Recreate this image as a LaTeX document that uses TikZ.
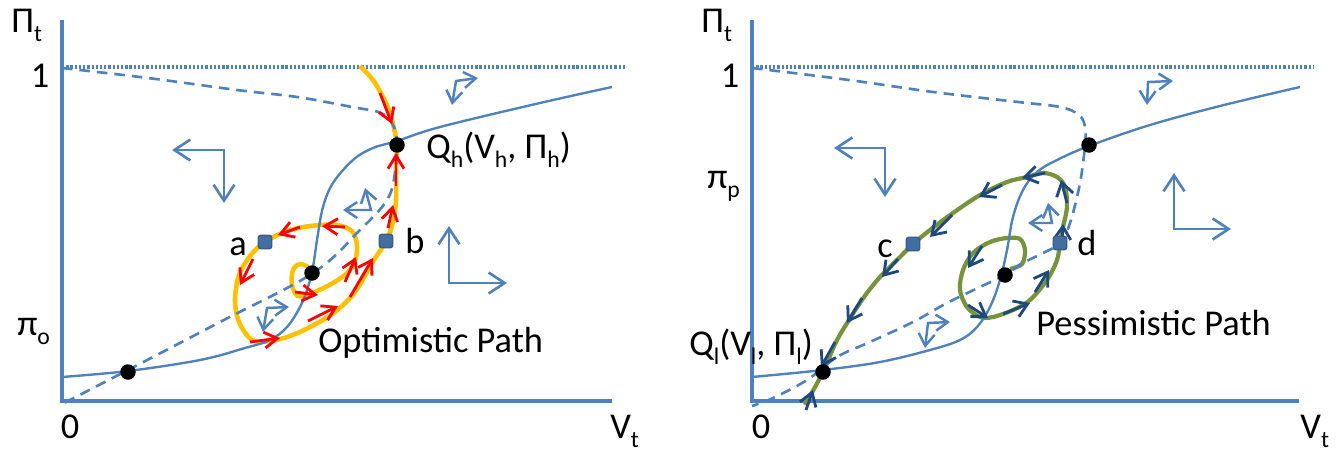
\documentclass[tikz,border=0pt]{standalone}
\usepackage{fontspec}
\setmainfont{Carlito}
\usetikzlibrary{arrows.meta,positioning}

\definecolor{axisblue}{HTML}{4F81BD}
\definecolor{sqborder}{HTML}{385D8A}
\definecolor{optorange}{HTML}{FFC000}
\definecolor{pessgreen}{HTML}{77933C}
\definecolor{pessnavy}{HTML}{1F497D}

% lowered text subscript
\newcommand{\lo}[1]{\raisebox{-5.5pt}{\fontsize{13.5}{14}\selectfont #1}}

\begin{document}
\begin{tikzpicture}[
  x=0.02cm, y=-0.02cm,
  font=\fontsize{20.7}{24}\selectfont,
  axis/.style={axisblue,line width=2pt},
  curve/.style={axisblue,line width=1.35pt},
  unstable/.style={curve,line width=1.5pt,dash pattern=on 6pt off 4pt},
  level/.style={axisblue,line width=1.9pt,dash pattern=on 1.3pt off 1.1pt},
  bigflow/.style={axisblue,line width=1.5pt,
    {Straight Barb[length=0.32cm,width=0.42cm]}-{Straight Barb[length=0.32cm,width=0.42cm]}},
  smallflow/.style={axisblue,line width=1.4pt,
    {Straight Barb[length=0.24cm,width=0.32cm]}-{Straight Barb[length=0.24cm,width=0.32cm]}},
  optpath/.style={optorange,line width=2.6pt},
  pesspath/.style={pessgreen,line width=2.4pt},
  optarrow/.style={red,line width=1.6pt,-{Straight Barb[length=0.26cm,width=0.32cm]}},
  pessarrow/.style={pessnavy,line width=1.6pt,-{Straight Barb[length=0.26cm,width=0.34cm]}},
  eq/.style={circle,fill=black,inner sep=0pt,minimum size=0.31cm},
  pt/.style={rectangle,rounded corners=1.5pt,fill=axisblue!85!black,draw=sqborder,line width=0.8pt,inner sep=0pt,minimum size=0.27cm},
  lbl/.style={inner sep=0pt}
]
\useasboundingbox (0,0) rectangle (1341,453);

%%% optimistic panel
\draw[axis] (62,20) |- (612,401);
\draw[level] (62,67) -- (625,67);
\draw[optpath] plot[smooth,tension=0.55] coordinates {(360,66) (373,80) (383,97) (390,113) (395,133) (397,145)
  (396,170) (396,200) (393,222) (386,241) (372,263) (355,292) (335,312) (312,326) (290,336) (270,341) (252,340)
  (239,322) (235,300) (239,275) (250,256) (265,242) (290,230) (320,225) (342,226) (354,234) (357,252)
  (350,270) (333,283) (312,293) (298,296) (292,285) (293,270) (300,264) (308,267)};
\draw[unstable] plot[smooth,tension=0.6] coordinates {(62,68) (148,78) (237,90) (297,97) (352,107) (381,113)
  (393,125) (397,143) (395,173) (387,200) (360,230) (313,273) (220,322) (128,370) (62,404)};
\draw[curve] plot[smooth,tension=0.6] coordinates {(62,377) (128,371) (200,360) (245,348) (270,340) (287,327)
  (300,307) (308,287) (313,267) (317,240) (323,207) (333,183) (353,160) (373,148) (397,141) (440,127)
  (540,103) (612,87)};
\draw[bigflow] (172,150) -| (224,203);
\draw[bigflow] (449,226) |- (507,283);
\draw[smallflow] (478,78) -- (456,81) -- (452,105);
\draw[smallflow] (365,188) -- (371,210) -- (343,210);
\draw[smallflow] (263,332) -- (267,308) -- (289,307);
\draw[optarrow] (380,93) -- (392,124);
\draw[optarrow] (396,186) -- (396,153);
\draw[optarrow] (388,228) -- (393,205);
\draw[optarrow] (350,297) -- (373,258);
\draw[optarrow] (308,321) -- (338,306);
\draw[optarrow] (250,342) -- (280,338);
\draw[optarrow] (253,259) -- (240,285);
\draw[optarrow] (300,227) -- (278,235);
\draw[optarrow] (345,227) -- (322,226);
\draw[optarrow] (295,292) -- (318,295);
\draw[optarrow] (345,282) -- (356,257);
\node[eq] (Lo) at (128,372) {};
\node[eq] (Cm) at (312,273) {};
\node[eq] (Qh) at (397,145) {};
\node[pt] (a) at (265,242) {};
\node[pt] (b) at (386,241) {};
\node[lbl, left=0.21cm of a, yshift=-0.09cm] {a};
\node[lbl, right=0.23cm of b] {b};
\node[lbl, anchor=base west] at (11,32) {Π\lo{t}};
\node[lbl, anchor=base] at (40,87) {1};
\node[lbl, anchor=base west] at (17,335) {π\lo{o}};
\node[lbl, anchor=base] at (70,438) {0};
\node[lbl, anchor=base west] at (610,438) {V\lo{t}};
\node[lbl, anchor=base west] at (426,158) {Q\lo{h}(V\lo{h}, Π\lo{h})};
\node[lbl, anchor=base west] at (318,352) {Optimistic Path};

%%% pessimistic panel
\draw[axis] (752,20) |- (1299,401);
\draw[level] (752,67) -- (1313,67);
\draw[pesspath] plot[smooth,tension=0.55] coordinates {(805,405) (823,372) (836,342) (849,320) (864,297)
  (880,277) (900,257) (913,244) (930,230) (953,213) (980,195) (1007,182) (1027,177) (1043,173) (1057,177)
  (1065,187) (1067,207) (1063,227) (1060,243) (1057,260) (1047,280) (1030,300) (1013,310) (993,317)
  (980,317) (967,307) (960,290) (963,270) (973,253) (990,242) (1007,238) (1020,239) (1025,250)
  (1022,264) (1010,269)};
\draw[unstable] plot[smooth,tension=0.6] coordinates {(752,68) (849,80) (933,92) (1018,102) (1060,107)
  (1079,115) (1085,127) (1085,145) (1080,183) (1070,223) (1060,243) (1043,253) (1023,263) (1005,275)
  (980,287) (947,303) (913,322) (870,342) (837,357) (807,380) (773,398) (752,406)};
\draw[curve] plot[smooth,tension=0.6] coordinates {(752,377) (823,370) (880,362) (930,350) (960,340)
  (977,327) (990,307) (1000,280) (1007,250) (1013,217) (1023,190) (1037,172) (1057,160) (1089,146)
  (1150,125) (1220,106) (1300,87)};
\draw[bigflow] (834,148) -| (885,197);
\draw[bigflow] (1174,173) |- (1231,229);
\draw[smallflow] (1173,81) -- (1148,82) -- (1147,105);
\draw[smallflow] (1048,203) -- (1052,223) -- (1028,223);
\draw[smallflow] (925,348) -- (928,323) -- (950,322);
\draw[pessarrow] (1045,173) -- (1022,178);
\draw[pessarrow] (1067,203) -- (1061,180);
\draw[pessarrow] (1062,245) -- (1063,224);
\draw[pessarrow] (1035,292) -- (1049,270);
\draw[pessarrow] (1003,314) -- (1030,303);
\draw[pessarrow] (968,305) -- (988,318);
\draw[pessarrow] (982,246) -- (968,268);
\draw[pessarrow] (1002,185) -- (979,197);
\draw[pessarrow] (952,215) -- (930,237);
\draw[pessarrow] (898,259) -- (882,277);
\draw[pessarrow] (862,298) -- (847,323);
\draw[pessarrow] (835,342) -- (821,367);
\draw[pessarrow] (806,410) -- (813,390);
\node[eq] (Ql) at (823,372) {};
\node[eq] (Cp) at (1005,275) {};
\node[eq] (Hi) at (1089,145) {};
\node[pt] (c) at (913,244) {};
\node[pt] (d) at (1060,243) {};
\node[lbl, left=0.25cm of c, yshift=-0.09cm] {c};
\node[lbl, right=0.19cm of d] {d};
\node[lbl, anchor=base west] at (701,32) {Π\lo{t}};
\node[lbl, anchor=base] at (730,87) {1};
\node[lbl, anchor=base west] at (707,188) {π\lo{p}};
\node[lbl, anchor=base] at (761,438) {0};
\node[lbl, anchor=base west] at (1300,438) {V\lo{t}};
\node[lbl, anchor=base west] at (689,355) {Q\lo{l}(V\lo{l}, Π\lo{l})};
\node[lbl, anchor=base west] at (1036,335) {Pessimistic Path};
\end{tikzpicture}
\end{document}
